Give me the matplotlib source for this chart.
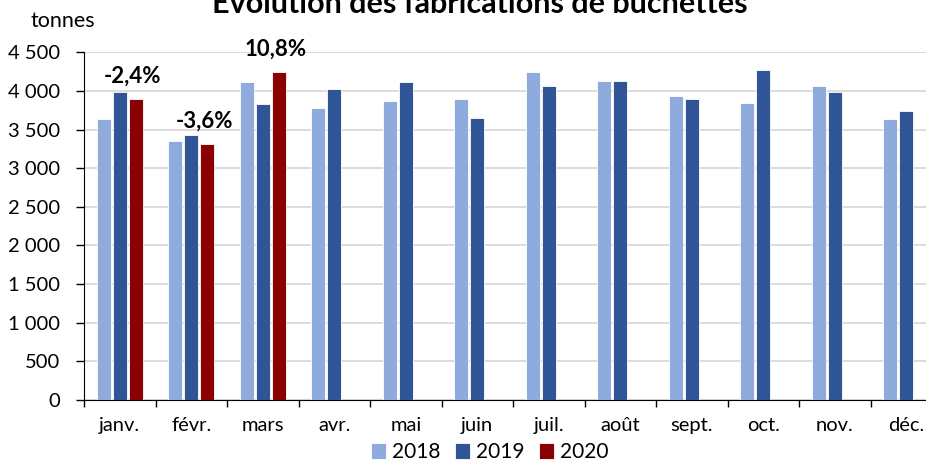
import numpy as np
import matplotlib.pyplot as plt
from matplotlib.ticker import FuncFormatter, FixedLocator

plt.rcParams['font.family'] = ['Lato', 'DejaVu Sans']

mois = ['janv.', 'févr.', 'mars', 'avr.', 'mai', 'juin', 'juil.', 'août',
        'sept.', 'oct.', 'nov.', 'déc.']
v2018 = [3635, 3355, 4110, 3775, 3875, 3890, 4250, 4130, 3930, 3850, 4070, 3635]
v2019 = [3990, 3435, 3830, 4030, 4110, 3655, 4070, 4130, 3890, 4265, 3990, 3735]
v2020 = [3895, 3310, 4245]
evol = ['-2,4%', '-3,6%', '10,8%']

c2018 = '#8FAADC'
c2019 = '#2F5597'
c2020 = '#8B0000'

fig = plt.figure(figsize=(9.26, 4.61), dpi=100)
ax = fig.add_axes([84 / 926, 1 - 400 / 461, 858 / 926, 347.7 / 461])

x = np.arange(len(mois))
slot = 0.224
w = 0.2
ax.bar(x - slot, v2018, w, color=c2018, edgecolor='white', linewidth=0.6, label='2018', zorder=3)
ax.bar(x, v2019, w, color=c2019, edgecolor='white', linewidth=0.6, label='2019', zorder=3)
x20 = x[:len(v2020)] + slot
ax.bar(x20, v2020, w, color=c2020, edgecolor='white', linewidth=0.6, label='2020', zorder=3)

# variations 2020/2019 au-dessus des barres rouges
for xi, v, t in zip(x20, v2020, evol):
    ax.annotate(t, (xi, v), xytext=(-2, 12), textcoords='offset points',
                ha='center', va='baseline', fontsize=16, fontweight='bold')

ax.set_xlim(-0.5, len(mois) - 0.5)
ax.set_ylim(0, 4500)
ax.set_yticks(np.arange(0, 4501, 500))
ax.yaxis.set_major_formatter(FuncFormatter(lambda v, p: f'{int(v):,}'.replace(',', ' ')))
ax.grid(axis='y', color='#D9D9D9', linewidth=1.3, zorder=0)
ax.tick_params(axis='y', length=6, width=1, pad=11, labelsize=14.5, direction='out')

ax.xaxis.set_major_locator(FixedLocator(np.arange(-0.5, len(mois), 1)))
ax.xaxis.set_minor_locator(FixedLocator(x))
ax.set_xticklabels([], minor=False)
ax.set_xticklabels(mois, minor=True)
ax.tick_params(axis='x', which='major', length=5, width=1, direction='out')
ax.tick_params(axis='x', which='minor', length=0, pad=12, labelsize=14.5)

for s in ['top', 'right']:
    ax.spines[s].set_visible(False)
ax.spines['left'].set_color('black')
ax.spines['bottom'].set_color('black')

fig.text(30 / 926, 1 - 21 / 461, 'tonnes', fontsize=15.5, va='center', ha='left')
fig.text(480 / 926, 1 - 13 / 461, 'Évolution des fabrications de buchettes',
         fontsize=22, fontweight='bold', ha='center', va='baseline')

fig.legend(loc='center', bbox_to_anchor=(490 / 926, 1 - 452 / 461), ncol=3,
           frameon=False, fontsize=15, handlelength=0.7, handleheight=0.8,
           handletextpad=0.3, columnspacing=0.7, borderpad=0)

fig.savefig('out.png', dpi=100)
